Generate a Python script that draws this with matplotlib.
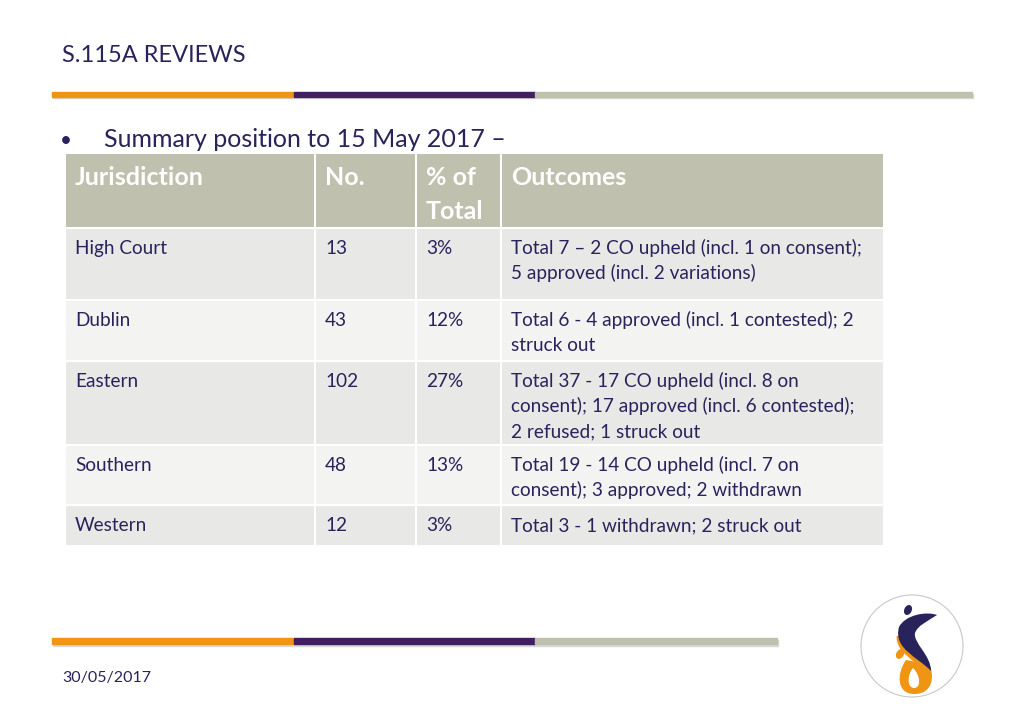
import matplotlib
matplotlib.use("Agg")
import matplotlib.pyplot as plt
from matplotlib.patches import Rectangle, Circle, Ellipse, PathPatch
from matplotlib.path import Path

# slide content
title = "S.115A REVIEWS"
bullet_text = "Summary position to 15 May 2017 \u2013"
date_text = "30/05/2017"

header = ["Jurisdiction", "No.", "% of\nTotal", "Outcomes"]
jurisdictions = ["High Court", "Dublin", "Eastern", "Southern", "Western"]
numbers = [13, 43, 102, 48, 12]
percents = ["3%", "12%", "27%", "13%", "3%"]
outcomes = [
    "Total 7 \u2013 2 CO upheld (incl. 1 on consent);\n5 approved (incl. 2 variations)",
    "Total 6 - 4 approved (incl. 1 contested); 2\nstruck out",
    "Total 37 - 17 CO upheld (incl. 8 on\nconsent); 17 approved (incl. 6 contested);\n2 refused; 1 struck out",
    "Total 19 - 14 CO upheld (incl. 7 on\nconsent); 3 approved; 2 withdrawn",
    "Total 3 - 1 withdrawn; 2 struck out",
]

# colours
NAVY = "#29235c"
ORANGE = "#ef9513"
PURPLE = "#3f1f5e"
SAGE = "#bfc0ad"
ROW_DARK = "#e8e8e6"
ROW_LIGHT = "#f3f3f2"

FONT = "Lato"

fig = plt.figure(figsize=(10.24, 7.09), dpi=100)
ax = fig.add_axes([0, 0, 1, 1])
ax.set_xlim(0, 1024)
ax.set_ylim(709, 0)
ax.axis("off")


def tri_bar(y, x0, x1, x2, x3, h):
    # faint shadow then three coloured segments
    ax.add_patch(Rectangle((x0 + 1, y + 1.5), x3 - x0, h, color="#d8d8d8", zorder=1))
    ax.add_patch(Rectangle((x0, y), x1 - x0, h, color=ORANGE, zorder=2))
    ax.add_patch(Rectangle((x1, y), x2 - x1, h, color=PURPLE, zorder=2))
    ax.add_patch(Rectangle((x2, y), x3 - x2, h, color=SAGE, zorder=2))


# title + top bar
ax.text(62, 62, title, fontsize=17, color=NAVY, family=FONT, va="baseline")
tri_bar(92, 52, 294, 535, 972, 4.5)

# bullet line
ax.text(60, 147, "\u2022", fontsize=15, color=NAVY, family=FONT, va="baseline")
ax.text(104, 147, bullet_text, fontsize=18, color=NAVY, family=FONT, va="baseline")

# table geometry (pixels)
col_x = [66, 316, 417, 502]
col_w = [248, 99, 83, 381]
header_top, header_h = 154, 73
row_tops = [229, 301, 362, 446, 506]
row_hs = [70, 59, 82, 58, 39]
line_gap = 25

for cx, cw in zip(col_x, col_w):
    ax.add_patch(Rectangle((cx, header_top), cw, header_h, color=SAGE, lw=0))
for cx, head in zip(col_x, header):
    for k, part in enumerate(head.split("\n")):
        ax.text(cx + 9, header_top + 31 + k * 34, part, fontsize=18, fontweight="bold",
                color="white", family=FONT, va="baseline")

for i, (rt, rh) in enumerate(zip(row_tops, row_hs)):
    fill = ROW_DARK if i % 2 == 0 else ROW_LIGHT
    for cx, cw in zip(col_x, col_w):
        ax.add_patch(Rectangle((cx, rt), cw, rh, color=fill, lw=0))
    cells = [jurisdictions[i], str(numbers[i]), percents[i], outcomes[i]]
    for cx, val in zip(col_x, cells):
        for k, part in enumerate(val.split("\n")):
            ax.text(cx + 9, rt + 25 + k * line_gap, part, fontsize=13.7, color=NAVY,
                    family=FONT, va="baseline")

# bottom bar + date
tri_bar(638, 52, 294, 535, 777, 6)
ax.text(62, 682, date_text, fontsize=11.5, color=NAVY, family=FONT, va="baseline")

# logo (rough drawing of the figure in a circle)
ax.add_patch(Circle((912, 646), 51, facecolor="white", edgecolor="#c8c8c8", lw=0.8))
C4 = Path.CURVE4
body_pts = [(899, 627),
            (905, 615), (926, 611), (937, 615),
            (928, 621), (918, 625), (915, 633),
            (913, 643), (931, 655), (931, 671),
            (918, 657), (893, 649), (899, 627)]
body_codes = [Path.MOVETO] + [C4] * 12
# orange teardrop with a white hole
drop = Path([(906, 660),
             (896, 674), (897, 694), (914, 694),
             (933, 694), (935, 676), (929, 664),
             (906, 660)],
            [Path.MOVETO, C4, C4, C4, C4, C4, C4, Path.LINETO])
ax.add_patch(PathPatch(drop, facecolor=ORANGE, edgecolor="none"))
hole = Path([(913, 668),
             (907, 675), (907, 688), (914, 688),
             (921, 688), (921, 676), (913, 668)],
            [Path.MOVETO, C4, C4, C4, C4, C4, C4])
ax.add_patch(PathPatch(hole, facecolor="white", edgecolor="none"))
ax.add_patch(Ellipse((900, 654), 6, 9, angle=30, color=ORANGE))
# orange rim along the lower part of the navy body
rim = PathPatch(Path([(x - 1.5, y + 3.5) for x, y in body_pts], body_codes),
                facecolor=ORANGE, edgecolor="none")
ax.add_patch(rim)
clip = Rectangle((880, 636), 70, 50, transform=ax.transData)
rim.set_clip_path(clip)
ax.add_patch(PathPatch(Path(body_pts, body_codes), facecolor=NAVY, edgecolor="none"))
ax.add_patch(Ellipse((908, 610), 6, 9, angle=25, color=NAVY))

fig.savefig("out.png", dpi=100)
